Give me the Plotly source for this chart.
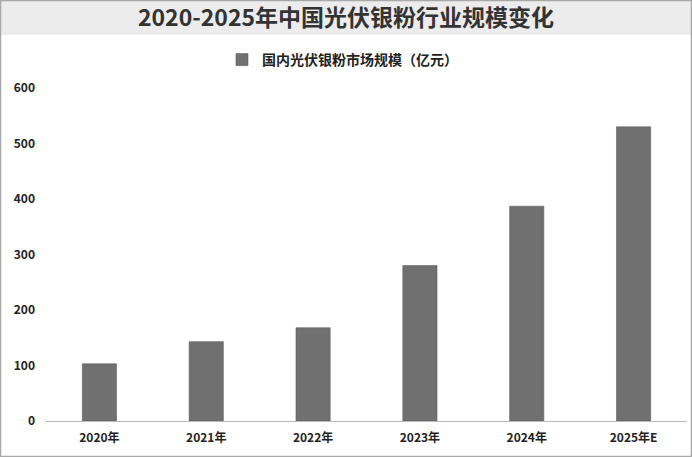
import plotly.graph_objects as go

# chart data
years = ["2020年", "2021年", "2022年", "2023年", "2024年", "2025年E"]
market_size = [103, 143, 168, 280, 387, 530]
series_name = "国内光伏银粉市场规模（亿元）"
title_text = "2020-2025年中国光伏银粉行业规模变化"
y_ticks = [0, 100, 200, 300, 400, 500, 600]

W, H = 692, 457
M_L, M_R, M_T, M_B = 46, 5, 88, 36
plot_w = W - M_L - M_R
plot_h = H - M_T - M_B


def px_x(x):
    """pixel x -> paper x"""
    return (x - M_L) / plot_w


def px_y(y):
    """pixel y (from top) -> paper y"""
    return (H - M_B - y) / plot_h


font_family = "Noto Sans CJK SC"

fig = go.Figure()
fig.add_trace(go.Bar(
    x=years,
    y=market_size,
    name=series_name,
    marker=dict(color="#707070", line=dict(color="#5e5e5e", width=0.6)),
    showlegend=True,
))

fig.update_layout(
    width=W,
    height=H,
    margin=dict(l=M_L, r=M_R, t=M_T, b=M_B),
    paper_bgcolor="white",
    plot_bgcolor="white",
    font=dict(family=font_family, color="#222222"),
    bargap=0.68,
    title=dict(
        text=title_text,
        x=0.5, xanchor="center", xref="container",
        y=1 - 18 / H, yanchor="middle", yref="container",
        font=dict(family=font_family, size=23, color="#333333", weight="bold"),
    ),
    legend=dict(
        orientation="h",
        x=px_x(222), xanchor="left",
        y=px_y(60), yanchor="middle",
        font=dict(size=14, color="#222222", weight="bold"),
        itemwidth=30,
        bgcolor="rgba(0,0,0,0)",
    ),
    xaxis=dict(
        showgrid=False,
        showline=True,
        linecolor="#b8b8b8",
        linewidth=1,
        ticks="",
        ticklabelstandoff=6,
        tickfont=dict(size=12, color="#222222", weight="bold"),
        fixedrange=True,
    ),
    yaxis=dict(
        range=[0, 600],
        tickvals=y_ticks,
        showgrid=False,
        zeroline=False,
        showline=False,
        ticks="",
        ticklabelstandoff=10,
        tickfont=dict(size=12, color="#222222", weight="bold"),
        fixedrange=True,
    ),
    shapes=[
        # grey title band
        dict(type="rect", xref="paper", yref="paper", layer="below",
             x0=px_x(0), x1=px_x(W), y0=px_y(35), y1=px_y(0),
             fillcolor="#ececec", line=dict(width=0)),
        # outer frame of the picture
        dict(type="rect", xref="paper", yref="paper",
             x0=px_x(0.5), x1=px_x(W - 0.5), y0=px_y(H - 0.5), y1=px_y(0.5),
             line=dict(color="#a8a8a8", width=1.5)),
    ],
)

# drop the browser's default body margin so the figure sits at the page corner
fig.write_html(
    "out.html",
    config={"displayModeBar": False},
    post_script="document.body.style.margin = '0';",
)
